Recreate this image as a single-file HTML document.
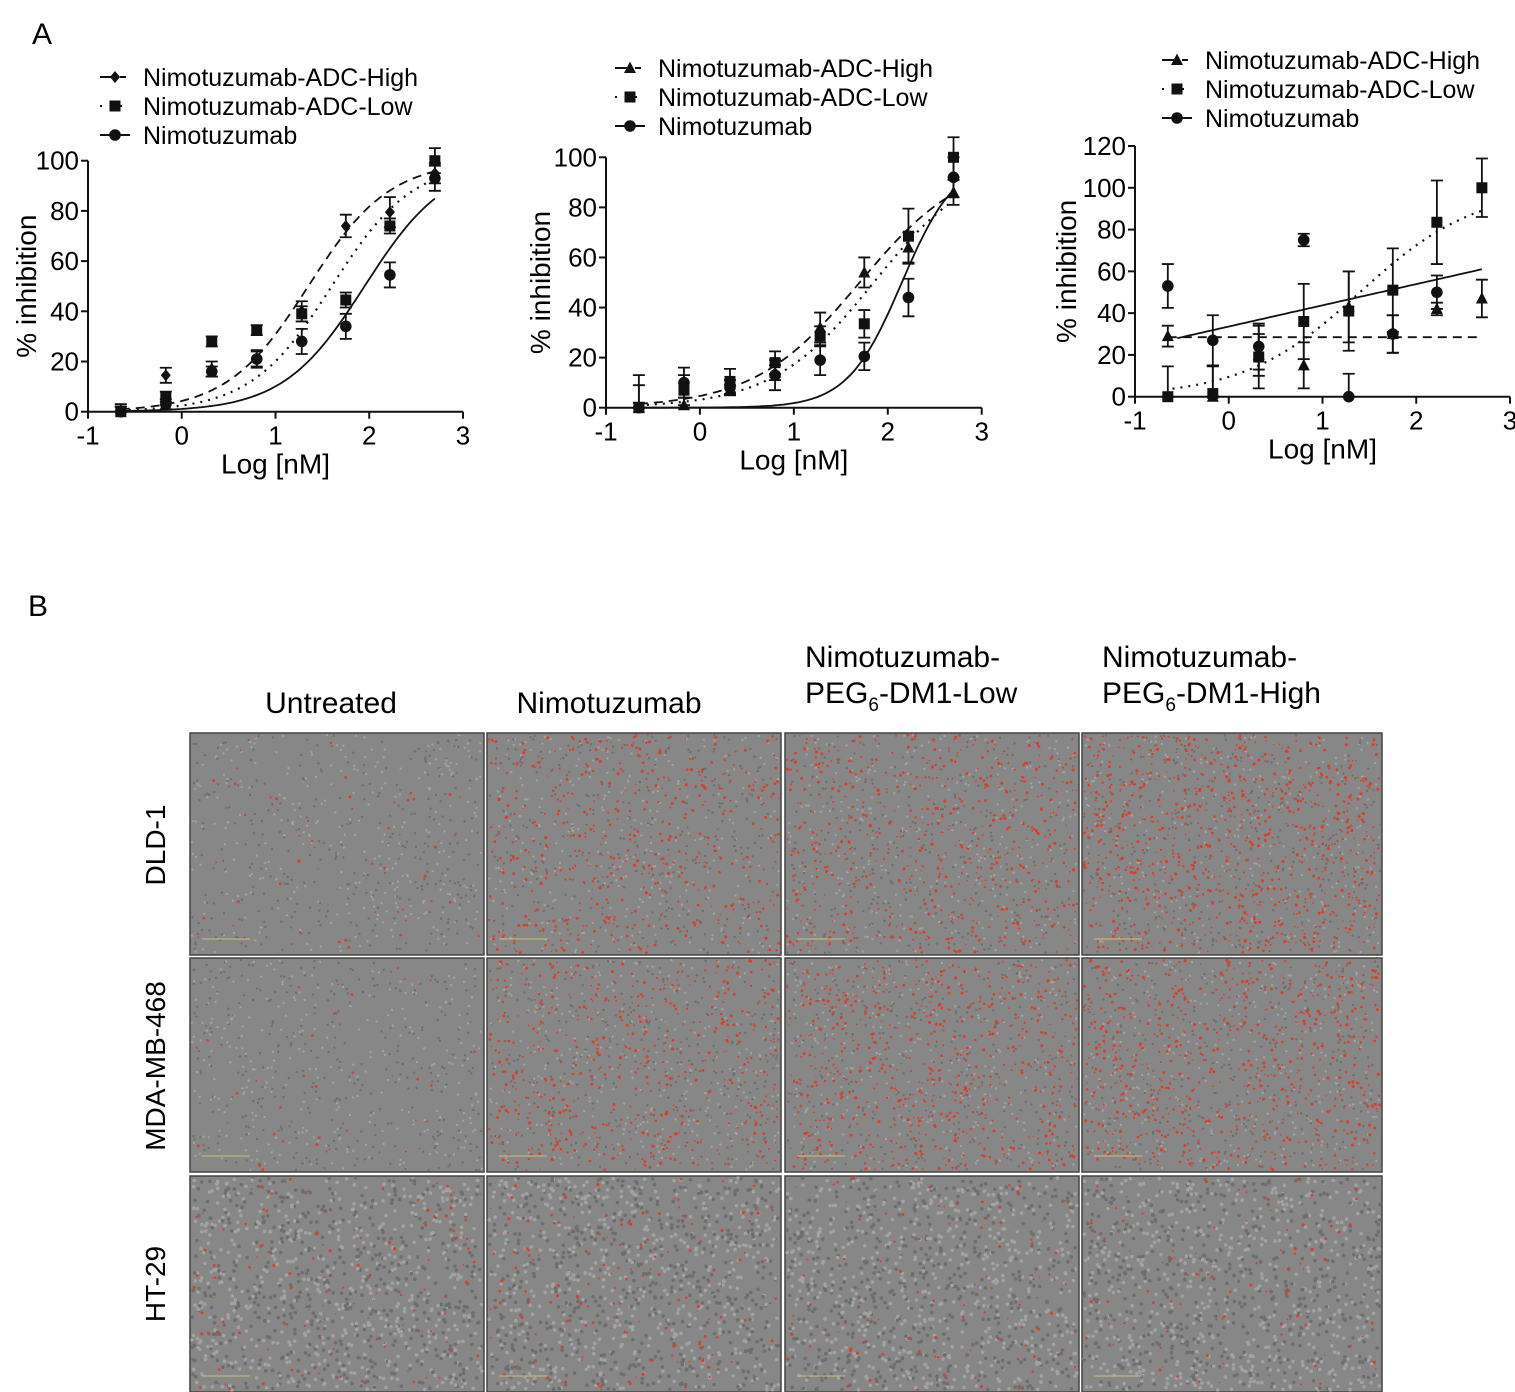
<!DOCTYPE html>
<html><head><meta charset="utf-8"><style>
body{margin:0;background:#fff}
svg{display:block;font-family:"Liberation Sans",Arial,sans-serif}
</style></head><body>
<svg id="fig" width="1515" height="1392" viewBox="0 0 1515 1392">
<text x="32" y="44" font-size="30">A</text>
<text x="28" y="616" font-size="30">B</text>
<g id="charts"></g>
<g id="micro"></g>
<g font-size="30">
<text x="331" y="713" text-anchor="middle">Untreated</text>
<text x="609" y="713" text-anchor="middle">Nimotuzumab</text>
<text x="805" y="667">Nimotuzumab-</text>
<text x="805" y="703">PEG<tspan font-size="19" dy="8">6</tspan><tspan dy="-8">-DM1-Low</tspan></text>
<text x="1102" y="667">Nimotuzumab-</text>
<text x="1102" y="703">PEG<tspan font-size="19" dy="8">6</tspan><tspan dy="-8">-DM1-High</tspan></text>
</g>
<g font-size="28">
<text transform="translate(165,845) rotate(-90)" text-anchor="middle">DLD-1</text>
<text transform="translate(165,1066) rotate(-90)" text-anchor="middle">MDA-MB-468</text>
<text transform="translate(165,1284) rotate(-90)" text-anchor="middle">HT-29</text>
</g>
</svg>
<script>
const NS="http://www.w3.org/2000/svg";
const xVals=[-0.65,-0.17,0.32,0.8,1.28,1.75,2.22,2.7];
const seriesNames=["Nimotuzumab-ADC-High","Nimotuzumab-ADC-Low","Nimotuzumab"];
const xTicks=[-1,0,1,2,3];
// chart 1
const c1High=[0,14.5,17,21,40,74,79.5,95];
const c1Low=[0,6,28,32.5,39,44.5,74,100];
const c1Nimo=[0,3,16,21,28,34,54.5,93];
const c1HighErr=[2,3,3,3,4,4.5,6,4];
const c1LowErr=[2,2,2,2,3,3,3,5];
const c1NimoErr=[3,2,2,3.5,5,5,5,5];
const c1Ec50=[1.35,1.6,1.95];
const c1Hill=[1,1,1];
const c1YTicks=[0,20,40,60,80,100];
// chart 2
const c2High=[0,1,7,14,32,54,64,86];
const c2Low=[0,7,10.5,18,28.5,33.5,68.5,100];
const c2Nimo=[0,10,8,13,19,20.5,44,92];
const c2HighErr=[2,3,2,3,6,6,6,5];
const c2LowErr=[13,6,5,4.5,4,5.5,11,8];
const c2NimoErr=[9,6,3,6,6,5.5,7.5,8];
const c2Ec50=[1.7,1.85,2.15];
const c2Hill=[0.77,0.8,1.5];
const c2YTicks=[0,20,40,60,80,100];
// chart 3
const c3High=[29,0,20,15,43,30,42,47];
const c3Low=[0,1.5,19,36,41,51,83.5,100];
const c3Nimo=[53,27,24,75,0,30,50,null];
const c3HighErr=[5,15,10,11,17,9,3,9];
const c3LowErr=[14.5,13,15,18,19,20,20,14];
const c3NimoErr=[10.5,12,11,3,11,9,8,0];
const c3YTicks=[0,20,40,60,80,100,120];
const c3SolidLine=[28,61];
const c3DashedLevel=[28.5];
const c3DottedFit=[1.4,0.7];

function el(tag,attrs,parent){const e=document.createElementNS(NS,tag);for(const k in attrs)e.setAttribute(k,attrs[k]);(parent||document.getElementById('charts')).appendChild(e);return e;}
const dashes=["9,6","2,6",null];

function marker(type,cx,cy,g){
  let m;
  if(type==="square")m=el('rect',{x:cx-5.5,y:cy-5.5,width:11,height:11,fill:'#111'},g);
  else if(type==="circle")m=el('circle',{cx:cx,cy:cy,r:5.8,fill:'#111'},g);
  else if(type==="diamond")m=el('polygon',{points:`${cx},${cy-6} ${cx+5},${cy} ${cx},${cy+6} ${cx-5},${cy}`,fill:'#111'},g);
  else m=el('polygon',{points:`${cx},${cy-6.5} ${cx+6},${cy+5} ${cx-6},${cy+5}`,fill:'#111'},g);
  return m;
}

function chart(cfg){
  const g=el('g',{});
  
  
  const X=v=>cfg.x0+(v+1)*(cfg.x1-cfg.x0)/4;
  const Y=v=>cfg.y0-v*(cfg.y0-cfg.yTop)/cfg.yMax;
  const ya=el('line',{x1:cfg.x0,x2:cfg.x0,y1:cfg.y0,y2:cfg.yTop,stroke:'#111','stroke-width':2},g);
  
  
  const xa=el('line',{x1:cfg.x0,x2:cfg.x1,y1:cfg.y0,y2:cfg.y0,stroke:'#111','stroke-width':2},g);
  
  
  cfg.yTicks.forEach(t=>{
    el('line',{x1:cfg.x0-7,x2:cfg.x0,y1:Y(t),y2:Y(t),stroke:'#111','stroke-width':2},g);
    const tx=el('text',{x:cfg.x0-9,y:Y(t)+9,'font-size':26,'text-anchor':'end'},g);tx.textContent=t;
    
    
  });
  xTicks.forEach(t=>{
    el('line',{x1:X(t),x2:X(t),y1:cfg.y0,y2:cfg.y0+7,stroke:'#111','stroke-width':2},g);
    const tx=el('text',{x:X(t),y:cfg.y0+33,'font-size':26,'text-anchor':'middle'},g);tx.textContent=t;
    
    
  });
  const xt=el('text',{x:(cfg.x0+cfg.x1)/2,y:cfg.y0+62,'font-size':28,'text-anchor':'middle'},g);xt.textContent="Log [nM]";
  
  
  const yt=el('text',{transform:`translate(${cfg.yLabX},${(cfg.y0+cfg.yTop)/2}) rotate(-90)`,'font-size':28,'text-anchor':'middle'},g);yt.textContent="% inhibition";
  
  
  cfg.curves.forEach((f,i)=>{
    let d="";
    for(let k=0;k<=120;k++){const v=cfg.cx0[i]+(2.7-cfg.cx0[i])*k/120;d+=(k?"L":"M")+X(v).toFixed(1)+","+Y(f(v)).toFixed(1);}
    const p=el('path',{d:d,fill:'none',stroke:'#111','stroke-width':i===1?2.2:1.8},g);
    if(dashes[i])p.setAttribute('stroke-dasharray',dashes[i]);
    
    
  });
  cfg.series.forEach((s,i)=>{
    s.forEach((v,j)=>{
      if(v===null)return;
      const e=cfg.errs[i][j];const cx=X(xVals[j]);
      if(e>0){
        const eb=el('path',{d:`M${cx},${Y(v+e)}V${Y(Math.max(v-e,0))}M${cx-6},${Y(v+e)}h12M${cx-6},${Y(Math.max(v-e,0))}h12`,stroke:'#111','stroke-width':1.8,fill:'none'},g);
        
        
      }
      const m=marker(cfg.marks[i],cx,Y(v),g);
      
      
    });
  });
  seriesNames.forEach((n,i)=>{
    const ly=cfg.legY+i*29;
    const lg=el('g',{},g);
    
    
    const ln=el('line',{x1:cfg.legX,x2:cfg.legX+30,y1:ly,y2:ly,stroke:'#111','stroke-width':2},lg);
    if(dashes[i])ln.setAttribute('stroke-dasharray',i===0?"12,4,0,4,6":"2,8");
    marker(cfg.marks[i],cfg.legX+15,ly,lg);
    const t=el('text',{x:cfg.legX+43,y:ly+9,'font-size':25},lg);t.textContent=n;
  });
}
const sig=(e,h,top)=>v=>(top||100)/(1+Math.pow(10,(e-v)*h));
chart({name:'chart-1',x0:88,x1:463,y0:411.7,yTop:160.7,yMax:100,yTicks:c1YTicks,yLabX:36,legX:100,legY:77,
  series:[c1High,c1Low,c1Nimo],errs:[c1HighErr,c1LowErr,c1NimoErr],marks:["diamond","square","circle"],
  curves:[0,1,2].map(i=>sig(c1Ec50[i],c1Hill[i])),cx0:[-0.65,-0.65,-0.65]});
chart({name:'chart-2',x0:606,x1:981.7,y0:407.7,yTop:157.3,yMax:100,yTicks:c2YTicks,yLabX:550,legX:615,legY:68,
  series:[c2High,c2Low,c2Nimo],errs:[c2HighErr,c2LowErr,c2NimoErr],marks:["triangle","square","circle"],
  curves:[0,1,2].map(i=>sig(c2Ec50[i],c2Hill[i])),cx0:[-0.65,-0.65,-0.65]});
chart({name:'chart-3',x0:1135,x1:1510,y0:396.7,yTop:146,yMax:120,yTicks:c3YTicks,yLabX:1076,legX:1162,legY:60,
  series:[c3High,c3Low,c3Nimo],errs:[c3HighErr,c3LowErr,c3NimoErr],marks:["triangle","square","circle"],
  curves:[v=>c3DashedLevel[0], sig(c3DottedFit[0],c3DottedFit[1]), v=>c3SolidLine[0]+(c3SolidLine[1]-c3SolidLine[0])*(v+0.55)/(2.7+0.55)],
  cx0:[-0.65,-0.6,-0.55]});

// micrograph panels (decorative texture)
const colX=[190,487,785,1082], colW=[294,294,294,300];
const rowY=[733,958,1176], rowH=[222,214,216];
const redDensity=[[60,500,600,900],[40,550,650,700],[120,160,110,100]];
let seed=7;const rnd=()=>{seed=(seed*16807)%2147483647;return seed/2147483647;};
const mg=document.getElementById('micro');
rowY.forEach((ry,r)=>colX.forEach((cx,c)=>{
  const g=el('g',{},mg);
  
  
  el('rect',{x:cx,y:ry,width:colW[c],height:rowH[r],fill:'#878787',stroke:'#444','stroke-width':1.5},g);
  const n=r===2?1100:600;
  for(let i=0;i<n;i++){
    el('circle',{cx:cx+2+rnd()*(colW[c]-4),cy:ry+2+rnd()*(rowH[r]-4),r:r===2?1.8:1.2,fill:rnd()<0.5?'#a2a2a2':'#6e6e6e'},g);
  }
  for(let i=0;i<redDensity[r][c];i++){
    el('circle',{cx:cx+2+rnd()*(colW[c]-4),cy:ry+2+rnd()*(rowH[r]-4),r:0.7+rnd()*0.9,fill:'#d8402c'},g);
  }
  el('line',{x1:cx+12,x2:cx+60,y1:ry+rowH[r]-16,y2:ry+rowH[r]-16,stroke:'#c8c27a','stroke-width':1},g);
}));
</script>
</body></html>
